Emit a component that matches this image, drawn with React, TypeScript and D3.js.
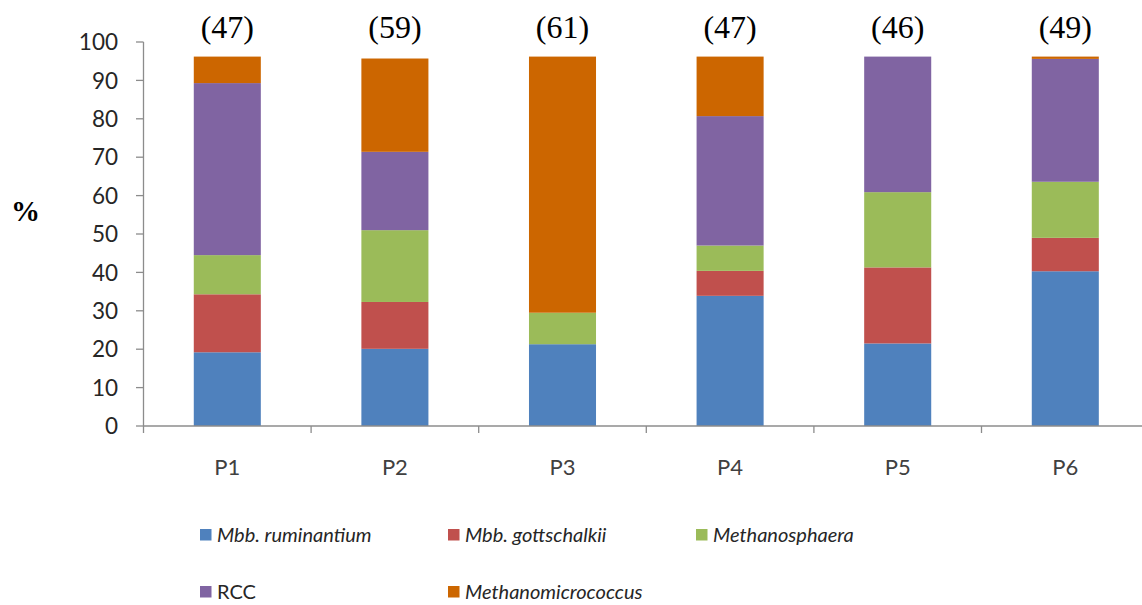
import React from "react";
import * as d3 from "d3";

const categories = ["P1", "P2", "P3", "P4", "P5", "P6"];
const topLabels = ["(47)", "(59)", "(61)", "(47)", "(46)", "(49)"];
const seriesNames = ["Mbb. ruminantium", "Mbb. gottschalkii", "Methanosphaera", "RCC", "Methanomicrococcus"];
const italicSeries = [true, true, true, false, true];
const colors = ["#4f81bd", "#c0504d", "#9bbb59", "#8064a2", "#cc6600"];
const ruminantium = [19.2, 20.1, 21.3, 33.9, 21.5, 40.3];
const gottschalkii = [15.1, 12.2, 0, 6.5, 19.8, 8.7];
const methanosphaera = [10.2, 18.7, 8.2, 6.6, 19.6, 14.6];
const rcc = [44.8, 20.4, 0, 33.7, 35.3, 32.0];
const methanomicrococcus = [6.9, 24.3, 66.7, 15.5, 0, 0.6];
const yTicks = [0, 10, 20, 30, 40, 50, 60, 70, 80, 90, 100];

const seriesValues = [ruminantium, gottschalkii, methanosphaera, rcc, methanomicrococcus];

export default function App() {
  const W = 1142, H = 605;
  const x0 = 143.5;
  const band = 167.6;
  const x = d3.scaleBand().domain(categories).range([x0, x0 + band * 6]).paddingInner(0).paddingOuter(0);
  const y = d3.scaleLinear().domain([0, 100]).range([426, 42]);
  const barW = band / 2.5;

  const rows = categories.map((c, i) => {
    const o: any = { cat: c };
    seriesNames.forEach((s, k) => (o[s] = seriesValues[k][i]));
    return o;
  });
  const stacked = d3.stack().keys(seriesNames)(rows);

  const legendItems = [
    { x: 200, y: 535 }, { x: 448, y: 535 }, { x: 696, y: 535 },
    { x: 200, y: 592 }, { x: 448, y: 592 },
  ];

  return (
    <svg width={W} height={H} style={{ position: "absolute", left: 0, top: 0, background: "#fff" }}>
      {stacked.map((layer, k) => (
        <g key={k} fill={colors[k]}>
          {layer.map((d, i) => {
            const h = y(d[0]) - y(d[1]);
            if (h <= 0) return null;
            const cx = (x(categories[i]) as number) + band / 2;
            return <rect key={i} x={cx - barW / 2} y={y(d[1])} width={barW} height={h} />;
          })}
        </g>
      ))}
      <line x1={x0} x2={x0} y1={y(100)} y2={y(0)} stroke="#8c8c8c" strokeWidth={1.3} />
      {yTicks.map((t) => (
        <g key={t}>
          <line x1={x0 - 7.5} x2={x0} y1={y(t)} y2={y(t)} stroke="#8c8c8c" strokeWidth={1.3} />
          <text x={118} y={y(t)} dy="0.36em" textAnchor="end" fontFamily="Lato, 'Open Sans', sans-serif" fontSize={22.5} fill="#262626">{t}</text>
        </g>
      ))}
      <line x1={x0} x2={W} y1={y(0)} y2={y(0)} stroke="#8c8c8c" strokeWidth={1.3} />
      {d3.range(7).map((i) => (
        <line key={i} x1={x0 + band * i} x2={x0 + band * i} y1={y(0)} y2={y(0) + 7} stroke="#8c8c8c" strokeWidth={1.3} />
      ))}
      {categories.map((c) => (
        <text key={c} x={(x(c) as number) + band / 2} y={467.5} dy="0.36em" textAnchor="middle" fontFamily="Lato, 'Open Sans', sans-serif" fontSize={22} fill="#404040">{c}</text>
      ))}
      {topLabels.map((t, i) => (
        <text key={i} x={(x(categories[i]) as number) + band / 2} y={38} textAnchor="middle" fontFamily="'Liberation Serif', 'Times New Roman', serif" fontSize={32} fill="#000">{t}</text>
      ))}
      <text x={25.5} y={221} textAnchor="middle" fontFamily="'Liberation Serif', 'Times New Roman', serif" fontSize={29} fontWeight="bold" fill="#000">%</text>
      {seriesNames.map((s, k) => (
        <g key={s}>
          <rect x={legendItems[k].x} y={legendItems[k].y - 6} width={11.5} height={11.5} fill={colors[k]} />
          <text x={legendItems[k].x + 17} y={legendItems[k].y} dy="0.36em" fontFamily="Lato, 'Open Sans', sans-serif" fontSize={20} fontStyle={italicSeries[k] ? "italic" : "normal"} fill="#262626">{s}</text>
        </g>
      ))}
    </svg>
  );
}
